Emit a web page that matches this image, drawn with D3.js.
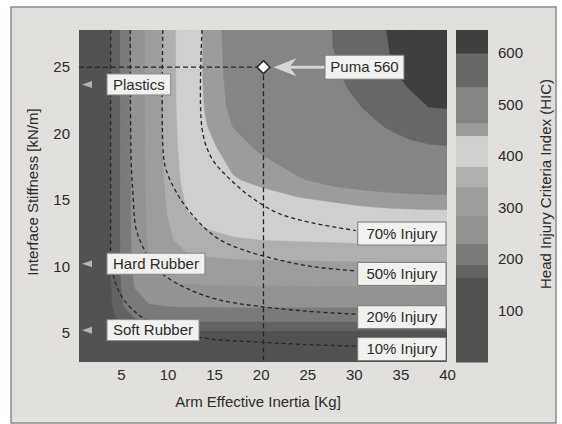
<!DOCTYPE html>
<html><head><meta charset="utf-8">
<script src="https://cdn.jsdelivr.net/npm/d3@7"></script>
<style>body{margin:0;background:#fff}svg{display:block}text{font-family:"Liberation Sans",Arial,Helvetica,sans-serif}</style>
</head><body><svg id="c" width="562" height="424"></svg>
<script>
// ---- data ----
const inertia = [0.5, 2, 3.5, 5, 6.5, 8, 10, 12, 14, 17, 20, 24, 28, 30, 32, 34, 36, 38, 40];      // kg (grid columns)
const stiffness = [2.8, 4, 5, 6, 7, 8.5, 10, 12, 14, 16.5, 19, 20.5, 22, 23.5, 25, 26.5, 27.8];    // kN/m (grid rows, bottom->top)
const hicRows = [
  [39,60,60,60,60,60,60,60,60,60,60,60,60,60,60,60,60,60,60],
  [40,102,116,119,120,120,120,120,120,120,120,120,120,120,120,120,120,120,120],
  [40,108,140,152,158,159,160,160,160,160,160,160,160,160,160,160,160,160,160],
  [40,109,149,172,188,193,194,195,195,195,195,195,195,195,195,195,195,195,195],
  [40,110,153,184,212,225,230,232,232,233,233,233,233,233,233,233,233,233,233],
  [40,110,154,189,232,260,274,280,282,283,284,284,285,285,285,285,285,285,285],
  [40,110,155,191,239,279,305,318,323,326,327,328,329,329,330,330,331,331,331],
  [40,110,155,192,243,291,331,358,368,376,380,383,385,387,388,389,389,390,390],
  [40,110,155,192,244,295,341,377,395,407,414,419,423,427,430,432,433,434,434],
  [40,110,155,192,244,298,349,393,418,437,447,462,475,479,482,485,487,488,489],
  [40,110,155,192,245,299,352,401,430,454,470,486,503,508,513,519,526,531,533],
  [40,110,155,192,245,299,353,405,437,465,481,500,512,519,528,539,550,560,566],
  [40,110,155,192,245,300,354,407,441,472,489,508,520,530,542,559,579,600,603],
  [40,110,155,192,245,300,355,408,443,474,494,512,527,540,556,580,603,610,616],
  [40,110,155,192,245,300,355,409,444,476,498,515,533,547,567,599,610,623,627],
  [40,110,155,192,245,300,355,409,444,477,499,519,536,552,575,603,617,630,636],
  [40,110,155,192,245,300,355,410,445,478,500,522,536,562,585,605,620,632,645]
];
const hicLevels = [0, 165, 190, 230, 285, 340, 380, 440, 465, 535, 600];
const hicMax = 645;
const injury70 = [[13.7,27.8],[13.7,20.4],[14.7,18.2],[16.5,16.7],[19.0,15.2],[21.9,14.0],[25.4,13.3],[30.2,12.7]];
const injury50 = [[9.5,27.8],[9.5,19.1],[9.8,17.4],[11.1,15.4],[12.95,13.65],[15.4,12.1],[18.3,11.2],[21.9,10.5],[25.4,10.0],[30.2,9.66]];
const injury20 = [[6.0,27.8],[6.1,17.9],[6.3,15.4],[6.6,12.9],[7.4,11.4],[8.3,10.3],[9.7,9.3],[12.2,8.3],[15.4,7.5],[19.7,7.0],[25.4,6.6],[30.2,6.4]];
const injury10 = [[3.9,27.8],[3.9,15.0],[4.0,10.1],[4.5,8.6],[5.3,7.5],[7.0,6.3],[9.7,5.4],[14.0,4.6],[19.7,4.3],[25.4,4.1],[30.2,4.0]];
const injuryNames = ["70% Injury","50% Injury","20% Injury","10% Injury"];
const materials = ["Plastics","Hard Rubber","Soft Rubber"];
const materialStiffness = [23.7, 10.2, 5.2];
const puma = {name:"Puma 560", inertia:20.3, stiffness:25};
const xTicks = [5,10,15,20,25,30,35,40];
const yTicks = [5,10,15,20,25];
const cTicks = [100,200,300,400,500,600];

// ---- styles ----
const bandGrays = ["#525252","#626262","#7a7a7a","#939393","#9d9d9d","#afafaf","#cfcfcf","#9c9c9c","#858585","#676767","#3f3f3f"];
const ink = "#2b2b2b";

const svg = d3.select("#c");
svg.append("rect").attr("x",11).attr("y",7).attr("width",545).attr("height",416)
  .attr("fill","#e1e0dc").attr("stroke","#8c8c8c").attr("stroke-width",1.5);

const x = d3.scaleLinear().domain([0.5,40]).range([79,447]);
const y = d3.scaleLinear().domain([2.8,27.8]).range([362,30]);
const c = d3.scaleLinear().domain([0,hicMax]).range([362,30]);

const nx = inertia.length, ny = stiffness.length;
const ix = d3.scaleLinear().domain(d3.range(nx)).range(inertia).clamp(true);
const iy = d3.scaleLinear().domain(d3.range(ny)).range(stiffness).clamp(true);
const values = hicRows.flat();
const contours = d3.contours().size([nx,ny]).thresholds(hicLevels)(values);
const proj = d3.geoTransform({point:function(px,py){ this.stream.point(x(ix(px-0.5)), y(iy(py-0.5))); }});
const path = d3.geoPath(proj);

svg.append("defs").append("clipPath").attr("id","plotclip").append("rect")
  .attr("x",79).attr("y",30).attr("width",368).attr("height",332);
const plot = svg.append("g").attr("clip-path","url(#plotclip)");
plot.selectAll("path.band").data(contours).join("path").attr("class","band")
  .attr("d",path).attr("fill",(d,i)=>bandGrays[i]).attr("stroke",(d,i)=>bandGrays[i]).attr("stroke-width",0.5);

// injury dashed curves
const line = d3.line().x(d=>x(d[0])).y(d=>y(d[1])).curve(d3.curveCatmullRom.alpha(0.5));
[injury70,injury50,injury20,injury10].forEach(pts=>{
  plot.append("path").attr("d",line(pts)).attr("fill","none").attr("stroke","#262626")
    .attr("stroke-width",1.3).attr("stroke-dasharray","4,3");
});
// puma guides
plot.append("line").attr("x1",x(0.5)).attr("x2",x(puma.inertia)).attr("y1",y(puma.stiffness)).attr("y2",y(puma.stiffness))
  .attr("stroke","#262626").attr("stroke-width",1.3).attr("stroke-dasharray","5,3");
plot.append("line").attr("x1",x(puma.inertia)).attr("x2",x(puma.inertia)).attr("y1",y(puma.stiffness)).attr("y2",y(2.8))
  .attr("stroke","#262626").attr("stroke-width",1.3).attr("stroke-dasharray","5,3");

// injury labels
const injuryEnds = [injury70,injury50,injury20,injury10].map(p=>p[p.length-1]);
injuryEnds.forEach((p,i)=>{
  const cy = y(p[1]) + 3;
  svg.append("rect").attr("x",x(p[0])+2).attr("y",cy-11.5).attr("width",447-x(p[0])-3).attr("height",23)
    .attr("fill","#f1f1ef").attr("stroke","#7a7a7a").attr("stroke-width",1);
  svg.append("text").attr("x",(x(p[0])+2+446)/2).attr("y",cy).attr("dy","0.35em").attr("text-anchor","middle")
    .attr("font-size",15).attr("fill",ink).text(injuryNames[i]);
});

// materials
materials.forEach((m,i)=>{
  const cy = y(materialStiffness[i]);
  svg.append("path").attr("d",`M${x(0.5)+3},${cy} L${x(0.5)+13},${cy-3.5} L${x(0.5)+13},${cy+3.5} Z`).attr("fill","#b4b4b4");
  const g = svg.append("g");
  const t = g.append("text").attr("x",107+6).attr("y",cy).attr("dy","0.35em").attr("font-size",15).attr("fill",ink).text(m);
  const bw = t.node().getComputedTextLength()+12;
  g.insert("rect","text").attr("x",107).attr("y",cy-10.5).attr("width",bw).attr("height",21)
    .attr("fill","#f1f1ef").attr("stroke","#8a8a8a").attr("stroke-width",1);
});

// puma marker, arrow, label
const px = x(puma.inertia), py = y(puma.stiffness);
svg.append("line").attr("x1",px+24).attr("x2",325).attr("y1",py).attr("y2",py).attr("stroke","#d6d6d6").attr("stroke-width",3);
svg.append("path").attr("d",`M${px+10},${py} L${px+33},${py-9} L${px+26},${py} L${px+33},${py+9} Z`).attr("fill","#d6d6d6");
svg.append("path").attr("d",d3.symbol(d3.symbolSquare,84)()).attr("transform",`translate(${px},${py}) rotate(45)`)
  .attr("fill","#fafafa").attr("stroke","#2b2b2b").attr("stroke-width",1.6);
svg.append("rect").attr("x",325).attr("y",py-12).attr("width",79).attr("height",24)
  .attr("fill","#f1f1ef").attr("stroke","#7a7a7a").attr("stroke-width",1);
svg.append("text").attr("x",364.5).attr("y",py).attr("dy","0.35em").attr("text-anchor","middle")
  .attr("font-size",15).attr("fill",ink).text(puma.name);

// colorbar
const bands = hicLevels.map((t,i)=>[t, i<hicLevels.length-1 ? hicLevels[i+1] : hicMax]);
svg.selectAll("rect.cb").data(bands).join("rect").attr("class","cb")
  .attr("x",456).attr("width",32).attr("y",d=>c(d[1])).attr("height",d=>c(d[0])-c(d[1])+0.5)
  .attr("fill",(d,i)=>bandGrays[i]);

// axes
function styleAxis(g){ g.select(".domain").remove(); g.selectAll("line").remove();
  g.selectAll("text").attr("font-size",15).attr("fill",ink).attr("font-family",'"Liberation Sans",Arial,sans-serif'); }
svg.append("g").attr("transform","translate(79,0)").call(d3.axisLeft(y).tickValues(yTicks).tickSize(0).tickPadding(9)).call(styleAxis);
svg.append("g").attr("transform","translate(0,362)").call(d3.axisBottom(x).tickValues(xTicks).tickSize(0).tickPadding(7)).call(styleAxis);
svg.append("g").attr("transform","translate(488,0)").call(d3.axisRight(c).tickValues(cTicks).tickSize(0).tickPadding(10)).call(styleAxis);

svg.append("text").attr("x",258).attr("y",402).attr("dy","0.35em").attr("text-anchor","middle")
  .attr("font-size",15).attr("fill",ink).text("Arm Effective Inertia [Kg]");
svg.append("text").attr("transform","translate(33,192) rotate(-90)").attr("dy","0.35em").attr("text-anchor","middle")
  .attr("font-size",15).attr("fill",ink).text("Interface Stiffness [kN/m]");
svg.append("text").attr("transform","translate(546,184) rotate(-90)").attr("dy","0.35em").attr("text-anchor","middle")
  .attr("font-size",15).attr("fill",ink).text("Head Injury Criteria Index (HIC)");
</script></body></html>
